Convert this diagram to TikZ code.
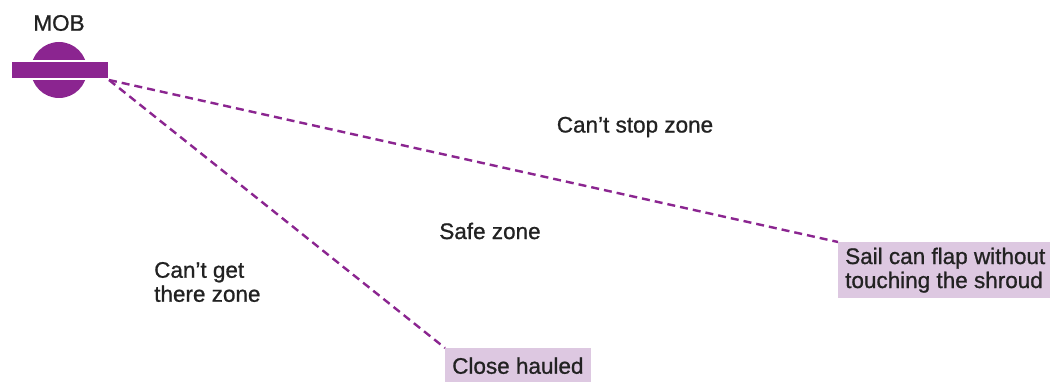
\documentclass[tikz,border=0pt]{standalone}
\usepackage{fontspec}
\setmainfont[FakeBold=0.9]{Liberation Sans}
\definecolor{mobpurple}{HTML}{8B2590}
\definecolor{lavender}{HTML}{DDC8E1}
\definecolor{txt}{HTML}{222222}
\begin{document}
\begin{tikzpicture}[x=1pt,y=-1pt,
  lbl/.style={font=\fontsize{22.5}{24}\selectfont, text=txt, inner sep=0pt},
  boxlbl/.style={lbl, fill=lavender, align=left, inner xsep=7pt, inner ysep=4pt, anchor=north west},
  dashline/.style={draw=mobpurple, line width=2.4pt, dash pattern=on 8pt off 5pt}]
\useasboundingbox (0,0) rectangle (1050,382);
\node[lbl] (mob) at (59,23) {MOB};
\node[circle, fill=mobpurple, minimum size=56pt, inner sep=0pt] (buoy) at (59,70) {};
\node[fill=mobpurple, draw=white, line width=1.5pt, minimum width=97pt, minimum height=18pt, inner sep=0pt, anchor=north west] (bar) at (10.5,60.5) {};
\coordinate (start) at (bar.south east);
\node[boxlbl, minimum width=212pt, minimum height=56pt] (sail) at (838,242) {Sail can flap without\\touching the shroud};
\node[boxlbl, minimum width=143pt, minimum height=35pt] (close) at (445,348) {Close hauled};
\draw[dashline] (start) -- (sail.north west);
\draw[dashline] (start) -- (close.north west);
\node[lbl] (stop) at (635,127) {Can’t stop zone};
\node[lbl] (safe) at (490,231) {Safe zone};
\node[lbl, align=left, anchor=west] (get) at (154,282) {Can’t get\\there zone};
\end{tikzpicture}
\end{document}
